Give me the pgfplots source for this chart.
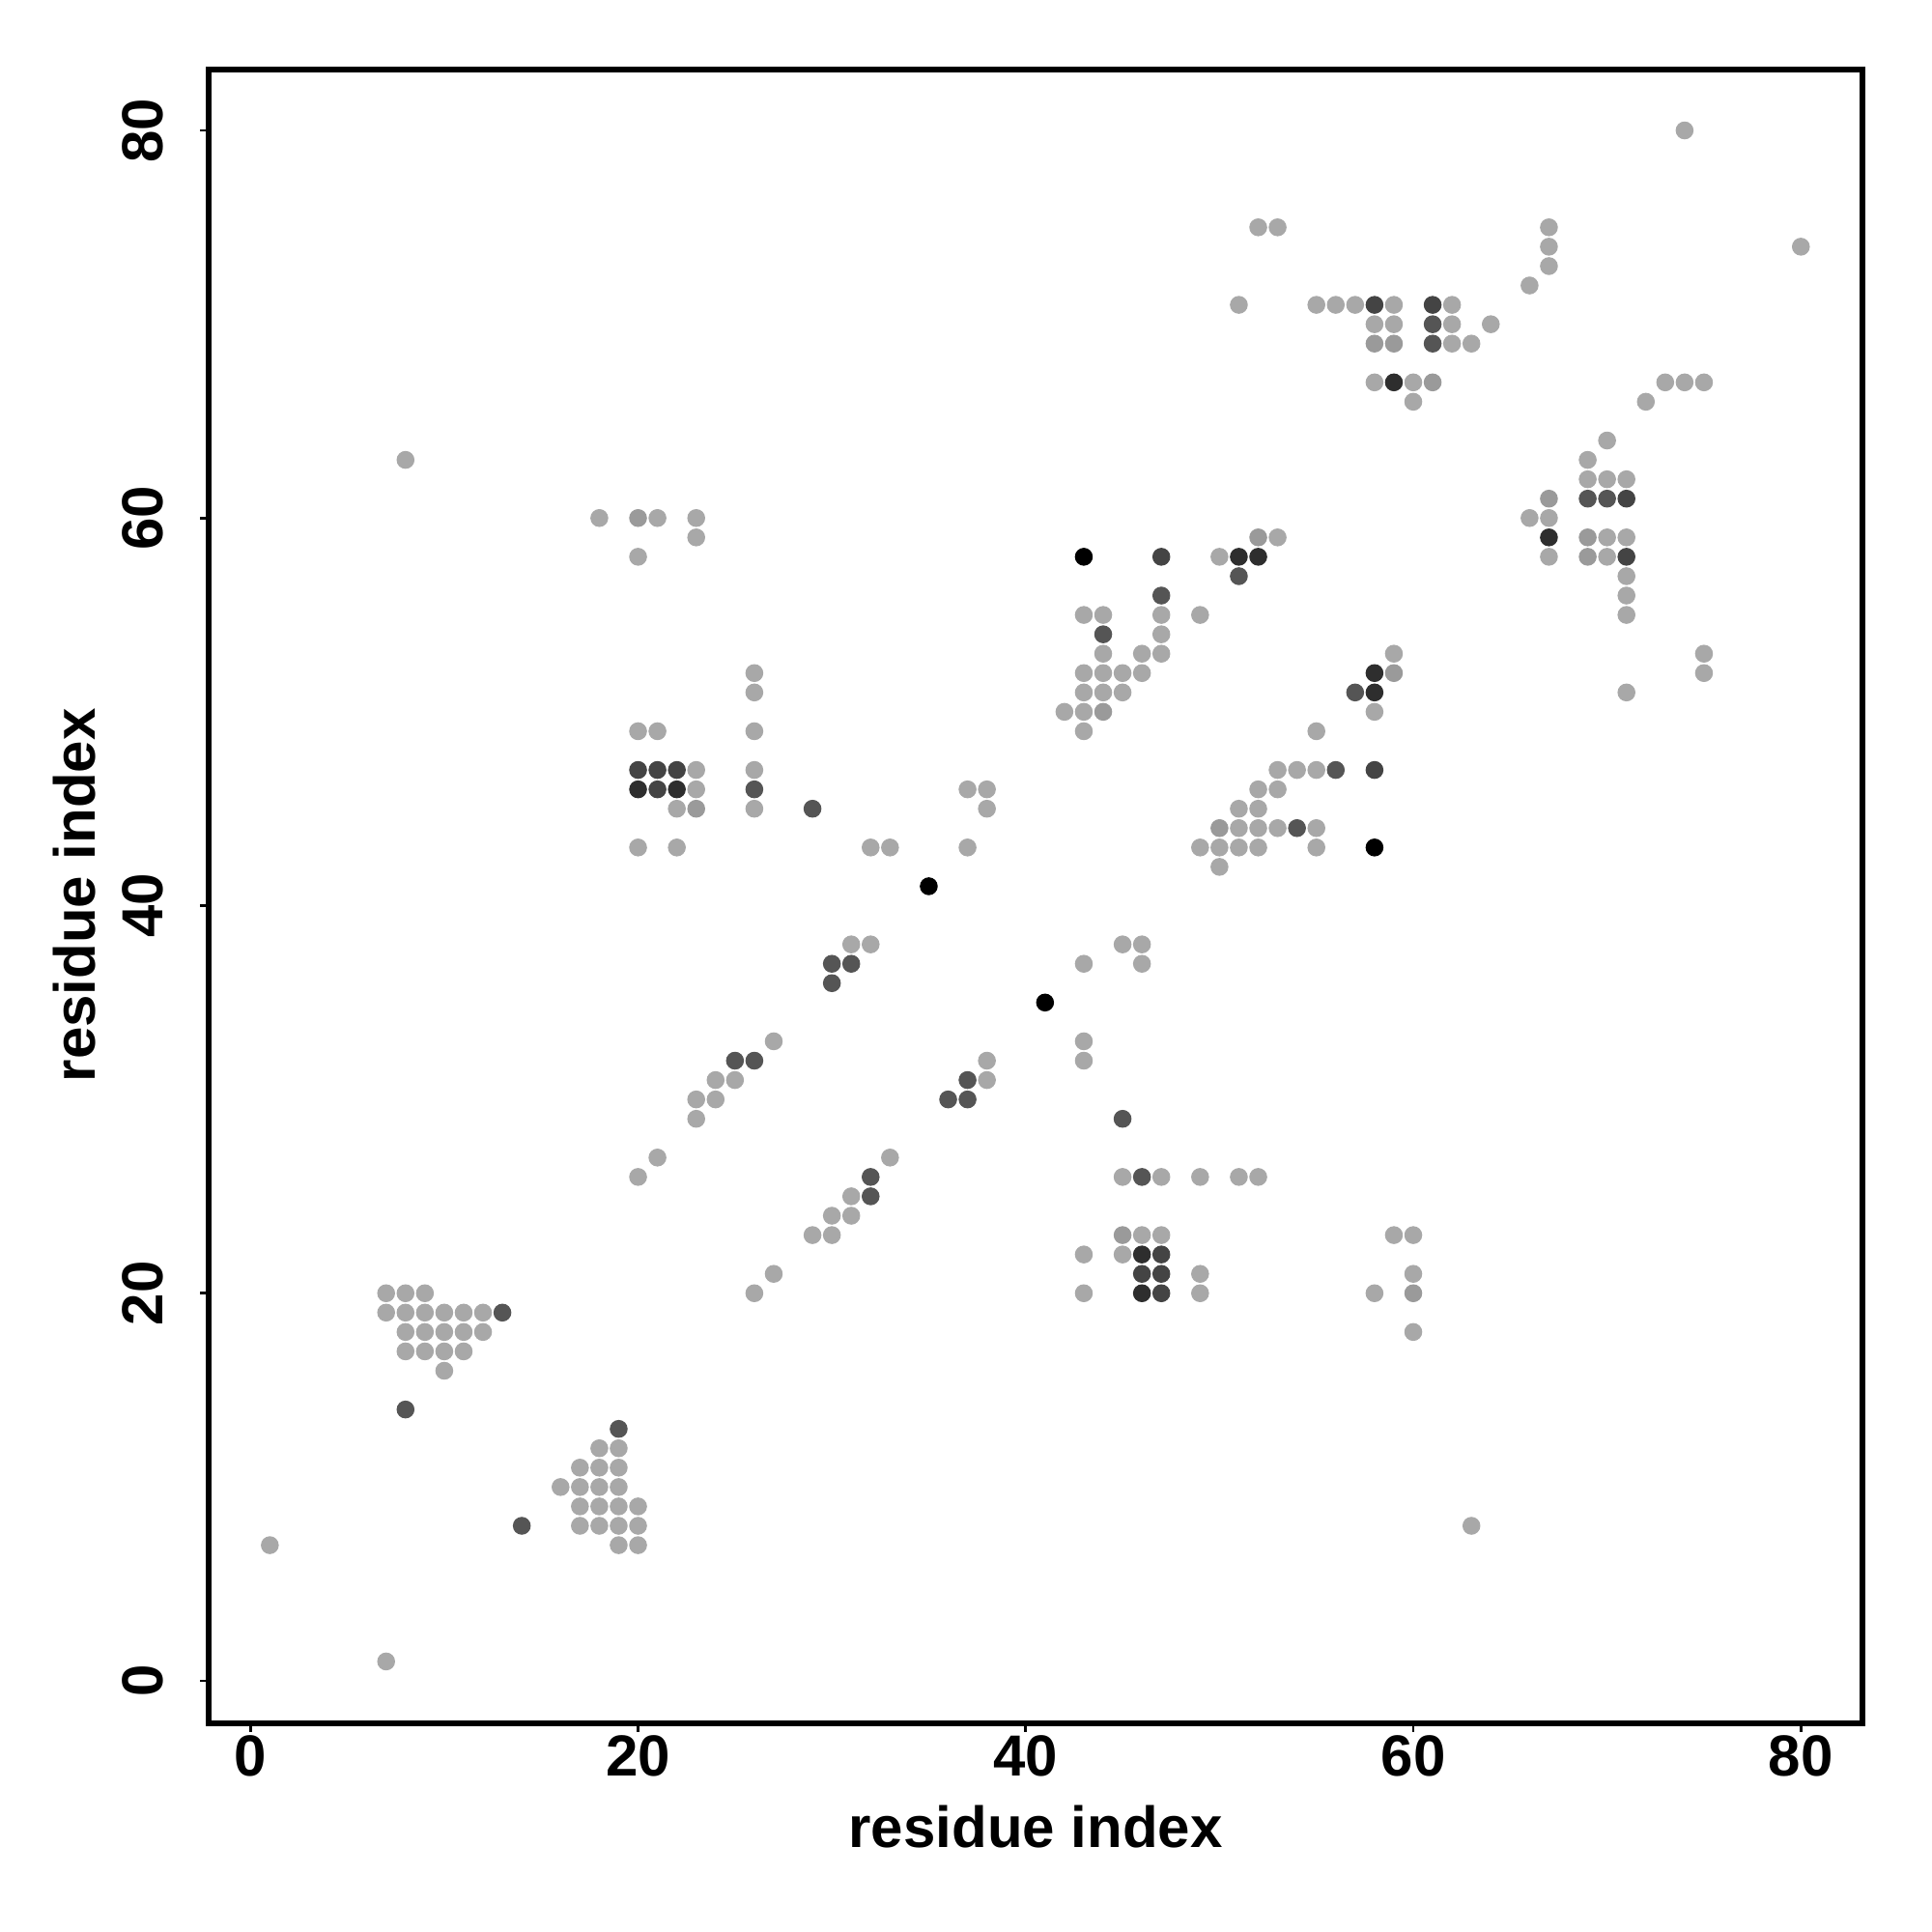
\documentclass[border=0pt]{standalone}
\usepackage{fontspec}
\setmainfont{Liberation Sans}
\usepackage{pgfplots}
\pgfplotsset{compat=1.18}
\definecolor{cLight}{HTML}{A8A8A8}
\definecolor{cMed}{HTML}{9A9A9A}
\definecolor{cDarkA}{HTML}{555555}
\definecolor{cDarkB}{HTML}{444444}
\definecolor{cDarkC}{HTML}{2E2E2E}
\pgfplotsset{dot/.style={only marks, mark=*, color=#1, mark size=1.75pt, mark options={line width=0.2pt, draw=#1, fill=#1}}}
\begin{document}
\begin{tikzpicture}
\useasboundingbox (-43.26pt,-43.22pt) rectangle (356.74pt,356.78pt);
\begin{axis}[
  scale only axis,
  width=342.3pt, height=342.34pt,
  at={(0pt,0pt)}, anchor=south west,
  xmin=-2.143, xmax=83.165, ymin=-2.188, ymax=83.13,
  xtick={0,20,40,60,80}, ytick={0,20,40,60,80},
  tick pos=left, tick align=outside,
  major tick length=1.8pt,
  axis line style={line width=1.14pt},
  every tick/.style={black, line width=0.55pt},
  /pgf/number format/assume math mode=true,
  ticklabel style={font=\fontsize{12}{14}\selectfont\bfseries},
  xticklabel style={inner sep=0pt, anchor=north, yshift=-0.6pt},
  yticklabel style={xshift=-7.46pt, rotate=90, anchor=south, inner sep=0pt},
  label style={font=\fontsize{12}{14}\selectfont\bfseries},
  xlabel={residue index}, ylabel={residue index},
  xlabel style={at={(axis description cs:0.5,-0.0626)}, anchor=center, inner sep=0pt},
  ylabel style={at={(axis description cs:-0.0816,0.5008)}, anchor=center, inner sep=0pt},
  clip=false,
]
% light grey contacts
\addplot[dot=cLight] coordinates {
(1,7)(7,1)
(7,20)(8,20)(9,20)(7,19)(8,19)(9,19)(10,19)(11,19)(12,19)(8,18)(9,18)(10,18)(11,18)(12,18)(8,17)(9,17)(10,17)(11,17)(10,16)
(20,7)(20,8)(20,9)(19,7)(19,8)(19,9)(19,10)(19,11)(19,12)(18,8)(18,9)(18,10)(18,11)(18,12)(17,8)(17,9)(17,10)(17,11)(16,10)
(23,29)(23,30)(24,30)(24,31)(25,31)(27,33)(29,23)(30,23)(30,24)(31,24)(31,25)(33,27)
(20,26)(21,27)(26,20)(27,21)(31,38)(32,38)(38,31)(38,32)
(18,60)(21,60)(23,60)(23,59)(20,58)(60,18)(60,21)(60,23)(59,23)(58,20)
(26,52)(26,51)(20,49)(21,49)(26,49)(23,47)(26,47)(23,46)(22,45)(26,45)(20,43)(22,43)
(52,26)(51,26)(49,20)(49,21)(49,26)(47,23)(47,26)(46,23)(45,22)(45,26)(43,20)(43,22)
(37,46)(38,46)(38,45)(37,43)(32,43)(33,43)(46,37)(46,38)(45,38)(43,37)(43,32)(43,33)
(8,63)(63,8)(74,80)(80,74)
(53,59)(50,58)(43,55)(44,55)(49,55)(47,55)(47,54)(44,53)(46,53)(47,53)(43,52)(44,52)(45,52)(46,52)(43,51)(44,51)(45,51)(42,50)(43,50)(43,49)
(59,53)(58,50)(55,43)(55,44)(55,49)(55,47)(54,47)(53,44)(53,46)(53,47)(52,43)(52,44)(52,45)(52,46)(51,43)(51,44)(51,45)(50,42)(50,43)(49,43)
(52,75)(53,75)(67,75)(67,74)(67,73)(66,72)(51,71)(55,71)(56,71)(57,71)(59,71)(62,71)(58,70)(59,70)(62,70)(64,70)(62,69)(63,69)(58,67)(60,67)(73,67)(74,67)(75,67)(60,66)(72,66)
(75,52)(75,53)(71,51)(71,55)(71,56)(71,57)(71,59)(71,62)(70,58)(70,59)(70,62)(70,64)(69,62)(69,63)(67,58)(67,60)(66,60)
};
% medium grey
\addplot[dot=cMed] coordinates {
(20,60)(60,20)(52,59)(59,52)(44,50)(50,44)(23,45)(45,23)(58,69)(59,69)(69,58)(69,59)(61,67)(67,61)
};
% dark greys
\addplot[dot=cDarkA] coordinates {
(13,19)(19,13)(8,14)(14,8)(30,37)(37,30)(31,37)(37,31)(30,36)(36,30)(25,32)(32,25)(26,32)(32,26)
(26,46)(46,26)(29,45)(45,29)(51,57)(57,51)(47,56)(56,47)(44,54)(54,44)(69,61)(61,69)(70,61)(61,70)
};
\addplot[dot=cDarkB] coordinates {
(20,47)(47,20)(21,47)(47,21)(22,47)(47,22)(21,46)(46,21)(47,58)(58,47)(71,61)(61,71)(71,58)(58,71)
};
\addplot[dot=cDarkC] coordinates {
(20,46)(46,20)(22,46)(46,22)(51,58)(58,51)(52,58)(58,52)(67,59)(59,67)
};
% black
\addplot[dot=black] coordinates {
(35,41)(41,35)(43,58)(58,43)
};
\end{axis}
\end{tikzpicture}
\end{document}
